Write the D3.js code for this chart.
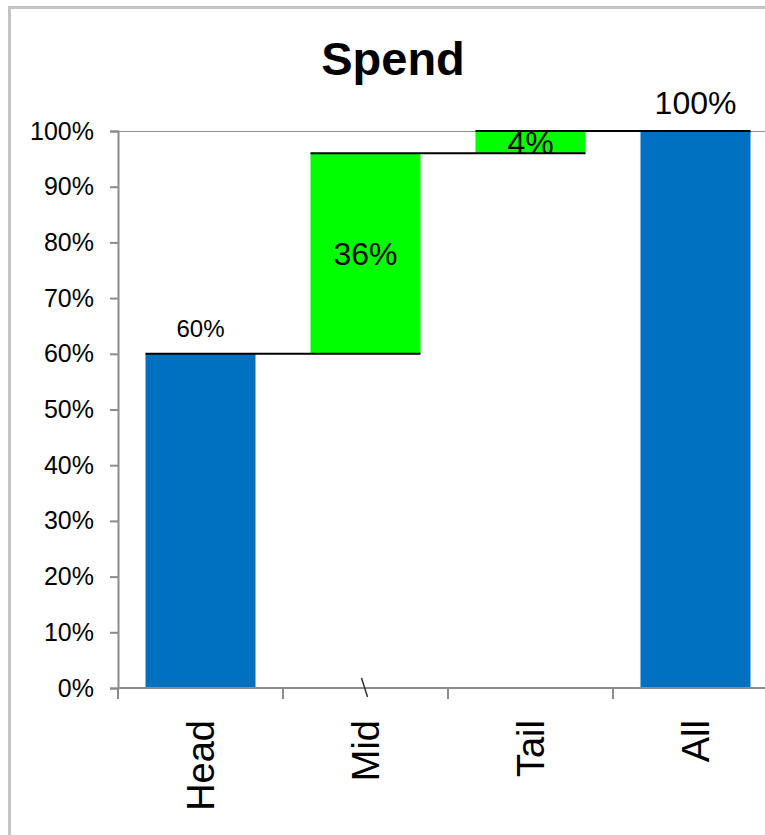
<!DOCTYPE html>
<html>
<head>
<meta charset="utf-8">
<script src="https://cdn.jsdelivr.net/npm/d3@7"></script>
<style>
  html, body { margin: 0; padding: 0; background: #fff; }
  svg { display: block; font-family: "Liberation Sans", Arial, Helvetica, sans-serif; }
</style>
</head>
<body>
<svg id="chart" width="765" height="835"></svg>
<script>
// Waterfall data: a starting block, two increments, then the grand total
const categories = ["Head", "Mid", "Tail", "All"];
const values = [0.60, 0.36, 0.04, 1.00];
const barKinds = ["start", "step", "step", "total"];
const valueLabels = ["60%", "36%", "4%", "100%"];
const yTickValues = [0, 0.1, 0.2, 0.3, 0.4, 0.5, 0.6, 0.7, 0.8, 0.9, 1.0];
const chartTitle = "Spend";

// Running base/top for each bar
let running = 0;
const bars = categories.map((c, i) => {
  let base, top;
  if (barKinds[i] === "total") { base = 0; top = values[i]; running = values[i]; }
  else { base = running; top = running + values[i]; running = top; }
  return { cat: c, base, top, label: valueLabels[i], kind: barKinds[i], i };
});

const svg = d3.select("#chart");
const plot = { left: 118, right: 778, top: 131, bottom: 688 };
const colors = { start: "#0070C0", total: "#0070C0", step: "#00FF00", axis: "#8c8c8c", frame: "#c4c4c4" };

const x = d3.scaleBand().domain(categories)
  .range([plot.left, plot.right]).paddingInner(1 / 3).paddingOuter(1 / 6);
const y = d3.scaleLinear().domain([0, 1]).range([plot.bottom, plot.top]);

// Outer chart frame
svg.append("rect")
  .attr("x", 9.5).attr("y", 7.5).attr("width", 800).attr("height", 860)
  .attr("fill", "none").attr("stroke", colors.frame).attr("stroke-width", 3);

// Title
svg.append("text")
  .attr("x", (8 + plot.right) / 2).attr("y", 75)
  .attr("text-anchor", "middle")
  .attr("font-size", 47).attr("font-weight", "bold")
  .text(chartTitle);

// Plot area top border
svg.append("line")
  .attr("x1", plot.left).attr("x2", plot.right)
  .attr("y1", plot.top + 0.5).attr("y2", plot.top + 0.5)
  .attr("stroke", colors.axis).attr("stroke-width", 1);

svg.append("clipPath").attr("id", "plotClip")
  .append("rect")
  .attr("x", plot.left).attr("y", plot.top)
  .attr("width", plot.right - plot.left).attr("height", plot.bottom - plot.top);

// Bars
svg.append("g").selectAll("rect").data(bars).join("rect")
  .attr("x", d => x(d.cat))
  .attr("width", x.bandwidth())
  .attr("y", d => y(d.top))
  .attr("height", d => y(d.base) - y(d.top))
  .attr("fill", d => colors[d.kind]);

// Value labels: above the start and total bars, centred inside the steps
const labelStyle = [
  { place: "above", size: 24 },
  { place: "inside", size: 32 },
  { place: "inside", size: 32 },
  { place: "above", size: 32 }
];
const labels = svg.append("g");
bars.forEach((d, i) => {
  const st = labelStyle[i];
  const cx = x(d.cat) + x.bandwidth() / 2;
  const t = labels.append("text")
    .attr("x", cx)
    .attr("text-anchor", "middle")
    .attr("font-size", st.size)
    .attr("fill", "#000")
    .text(d.label);
  if (st.place === "above") {
    t.attr("y", y(d.top) - 17);
  } else {
    t.attr("y", (y(d.top) + y(d.base)) / 2 + st.size * 0.36)
      .attr("clip-path", "url(#plotClip)");
  }
});

// Connector lines from each bar's top across to the next bar
const conn = svg.append("g");
for (let i = 0; i < bars.length - 1; i++) {
  const yy = y(bars[i].top);
  conn.append("line")
    .attr("x1", x(bars[i].cat))
    .attr("x2", x(bars[i + 1].cat) + x.bandwidth())
    .attr("y1", yy).attr("y2", yy)
    .attr("stroke", "#000").attr("stroke-width", 2);
}

// Y axis
const yAxis = svg.append("g")
  .attr("transform", `translate(${plot.left},0)`)
  .call(d3.axisLeft(y).tickValues(yTickValues).tickFormat(d3.format(".0%"))
    .tickSize(8).tickPadding(16));
yAxis.select(".domain").attr("stroke", colors.axis).attr("stroke-width", 2);
yAxis.selectAll(".tick line").attr("stroke", colors.axis).attr("stroke-width", 2);
yAxis.selectAll(".tick text").attr("font-size", 25).attr("fill", "#000")
  .attr("font-family", "Liberation Sans, Arial, sans-serif");

// X axis: baseline with ticks on category boundaries
const xAxis = svg.append("g");
xAxis.append("line")
  .attr("x1", plot.left).attr("x2", plot.right)
  .attr("y1", plot.bottom).attr("y2", plot.bottom)
  .attr("stroke", colors.axis).attr("stroke-width", 2);
const gap = (x.step() - x.bandwidth()) / 2;
const bounds = categories.map(c => x(c) - gap).concat([plot.right]);
xAxis.selectAll("line.tick").data(bounds).join("line")
  .attr("class", "tick")
  .attr("x1", d => d).attr("x2", d => d)
  .attr("y1", plot.bottom).attr("y2", plot.bottom + 11)
  .attr("stroke", colors.axis).attr("stroke-width", 2);

// Small stray stroke under the Mid category
const midC = x("Mid") + x.bandwidth() / 2;
xAxis.append("line")
  .attr("x1", midC - 4).attr("y1", plot.bottom - 10)
  .attr("x2", midC + 2).attr("y2", plot.bottom + 9)
  .attr("stroke", "#333").attr("stroke-width", 1.5);

// Category labels, rotated
svg.append("g").selectAll("text").data(categories).join("text")
  .attr("transform", d => `translate(${x(d) + x.bandwidth() / 2},720) rotate(-90)`)
  .attr("text-anchor", "end")
  .attr("dy", "0.36em")
  .attr("font-size", 38)
  .attr("fill", "#000")
  .text(d => d);
</script>
</body>
</html>
